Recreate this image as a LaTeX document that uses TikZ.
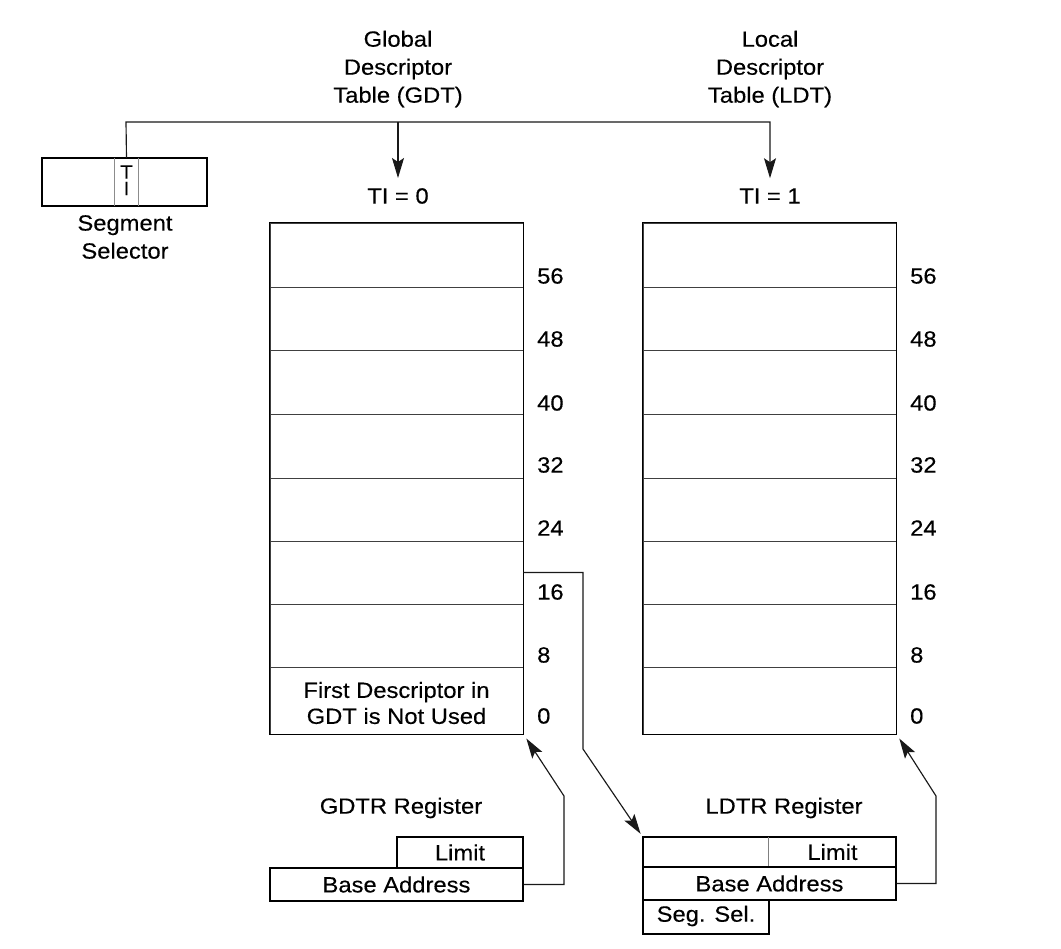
\documentclass[tikz,border=0pt]{standalone}
\usepackage{fontspec}
\setmainfont[FakeStretch=1.08,FakeBold=0.3]{Liberation Sans}
\usetikzlibrary{arrows.meta,fit,calc}
\begin{document}
\begin{tikzpicture}[x=1pt,y=-1pt,
  font=\fontsize{22}{28}\selectfont,
  box/.style={draw=black, line width=1.4pt, inner sep=0pt},
  cell/.style={draw=black!75, line width=0.9pt, inner sep=0pt},
  lbl/.style={inner sep=0pt},
  conn/.style={draw=black!90, line width=1.15pt},
  arr/.style={conn, -{Stealth[length=20pt,width=12pt,inset=4pt]}}]
\useasboundingbox (0,0) rectangle (1061,949);

% titles
\node[lbl, align=center] (gdtt) at (398,69) {Global\\Descriptor\\Table (GDT)};
\node[lbl, align=center] (ldtt) at (770,69) {Local\\Descriptor\\Table (LDT)};

% segment selector
\node[box, fit={(42,158) (207,206)}] (ss) {};
\node[lbl, fit={(115,158) (138,206)}] (ti) {};
\draw[black!45, line width=0.9pt] (ti.north west) -- (ti.south west) (ti.north east) -- (ti.south east);
\node[lbl, font=\fontsize{19}{19}\selectfont] (tiT) at (126.5,172) {T};
\node[lbl, font=\fontsize{19}{19}\selectfont] (tiI) at (126.5,188.5) {I};
\node[lbl, align=center] (sst) at (125,237) {Segment\\Selector};

% TI labels
\node[lbl, inner ysep=10pt] (ti0) at (398,196) {TI = 0};
\node[lbl, inner ysep=10pt] (ti1) at (770,196) {TI = 1};

% bus
\coordinate (bus) at (126,122);
\draw[arr] (ti.north) -- (bus) -- (bus -| ti1) -- (ti1.north);
\draw[arr] (bus -| ti0) -- (ti0.north);

% tables
\foreach \n/\a/\b in {7/223/287.5, 6/287.5/350.5, 5/350.5/414, 4/414/478, 3/478/541, 2/541/604, 1/604/667, 0/667/734} {
  \node[cell, fit={(270,\a) (523,\b)}] (g\n) {};
  \node[cell, fit={(643,\a) (896,\b)}] (l\n) {};
}
\node[box, fit=(g7)(g0)] (gdt) {};
\node[box, fit=(l7)(l0)] (ldt) {};
\node[lbl, align=center, font=\fontsize{22}{26}\selectfont] (gtxt) at (396.5,703) {First Descriptor in\\GDT is Not Used};

\foreach \v/\y in {56/276, 48/339, 40/403, 32/465, 24/528, 16/592, 8/655, 0/716} {
  \node[lbl, anchor=west] (gn\v) at (537,\y) {\v};
  \node[lbl, anchor=west] (ln\v) at (910,\y) {\v};
}

% GDTR register
\node[lbl] (gdtrt) at (401,808) {GDTR Register};
\node[box, fit={(397,837) (523,868)}] (glim) {};
\node[lbl] (glimt) at (glim.center) {Limit};
\node[box, fit={(270,868) (523,901)}] (gbase) {};
\node[lbl] (gbaset) at (gbase.center) {Base Address};

% LDTR register
\node[lbl] (ldtrt) at (784,808) {LDTR Register};
\node[box, fit={(643,837) (896,867)}] (lrow) {};
\node[lbl, fit={(769,837) (896,867)}] (llim) {};
\node[lbl] (llimt) at (llim.center) {Limit};
\draw[black!50, line width=0.9pt] (llim.north west) -- (llim.south west);
\node[box, fit={(643,867) (896,900)}] (lbase) {};
\node[lbl] (lbaset) at (lbase.center) {Base Address};
\node[box, fit={(643,900) (769,934)}] (lsel) {};
\node[lbl] (lselt) at ($(lsel.center)+(0,-1)$) {Seg. Sel.};

% connectors
\coordinate (c1) at (583,749);
\draw[arr, shorten >=3pt] (g2.east) -| (c1) -- (lrow.north west);
\coordinate (c2) at (564,796);
\draw[arr, shorten >=4pt] (gbase.east) -| (c2) -- (gdt.south east);
\coordinate (c3) at (936,796);
\draw[arr, shorten >=4pt] (lbase.east) -| (c3) -- (ldt.south east);
\end{tikzpicture}
\end{document}
